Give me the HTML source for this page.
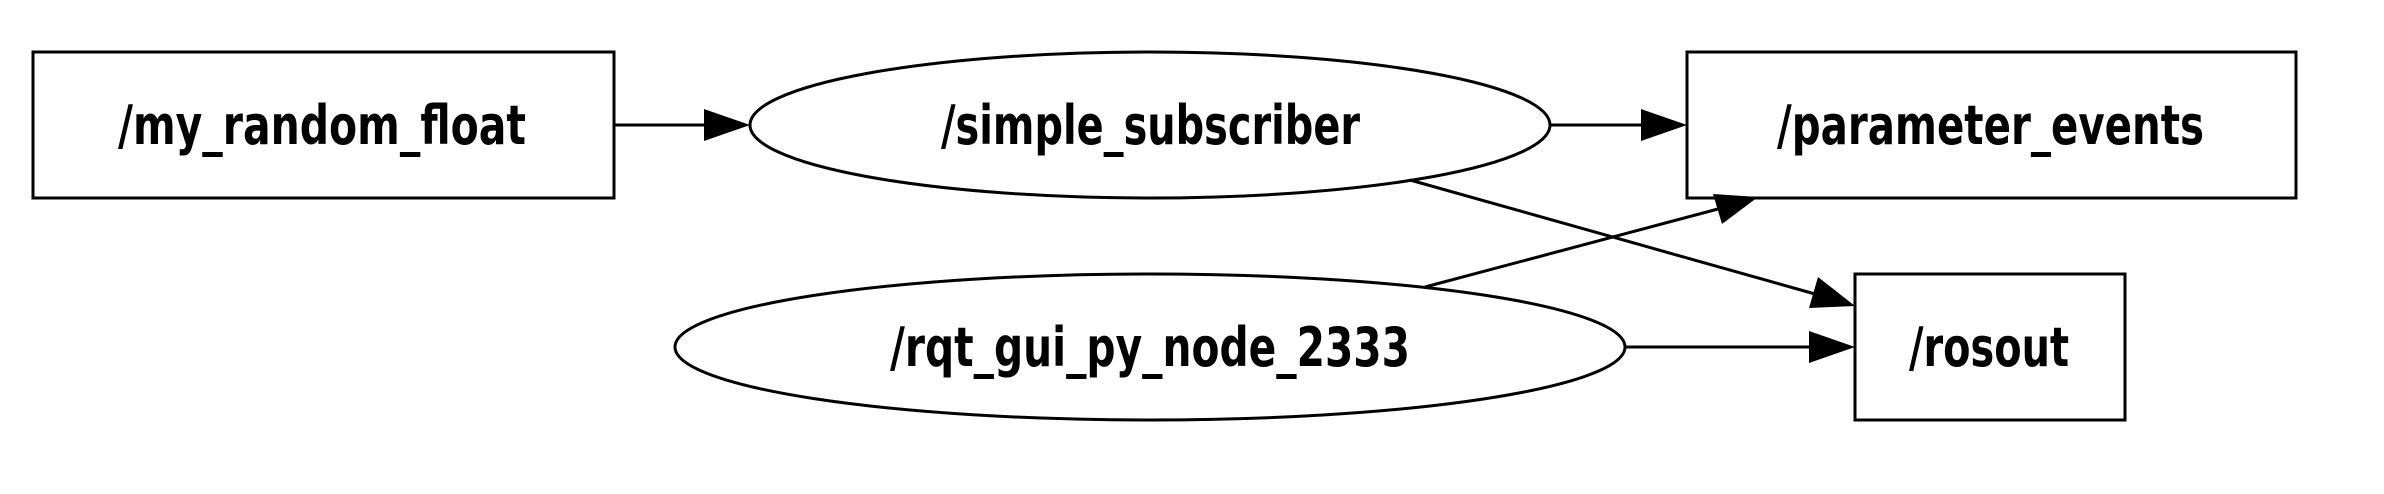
<!DOCTYPE html>
<html><head><meta charset="utf-8"><style>
html,body{margin:0;padding:0;background:#fff;}
svg{display:block;}
text{font-family:"DejaVu Sans","Liberation Sans",sans-serif;font-weight:bold;font-size:54px;fill:#000;}
</style></head><body>
<svg width="2384" height="494" viewBox="0 0 2384 494" xmlns="http://www.w3.org/2000/svg">
<g stroke="#000" stroke-width="3" fill="none">
<rect x="33" y="52" width="581" height="146"/>
<ellipse cx="1150" cy="125" rx="400" ry="73"/>
<rect x="1687" y="52" width="609" height="146"/>
<ellipse cx="1150" cy="347" rx="475" ry="73"/>
<rect x="1855" y="274" width="270" height="146"/>
<line x1="614" y1="125" x2="706" y2="125"/>
<line x1="1550" y1="125" x2="1644" y2="125"/>
<line x1="1626" y1="347" x2="1812" y2="347"/>
<line x1="1410" y1="180" x2="1815" y2="294"/>
<line x1="1425" y1="287" x2="1718" y2="209"/>
</g>
<g fill="#000">
<polygon points="750,125 704,109 704,141"/>
<polygon points="1687,125 1641,109 1641,141"/>
<polygon points="1855,347 1809,331 1809,363"/>
<polygon points="1855,306 1809,308 1818,277"/>
<polygon points="1758,197 1722,224 1713,194"/>
</g>
<text x="118" y="144" textLength="408" lengthAdjust="spacingAndGlyphs">/my_random_float</text>
<text x="941" y="144" textLength="419" lengthAdjust="spacingAndGlyphs">/simple_subscriber</text>
<text x="1777" y="144" textLength="427" lengthAdjust="spacingAndGlyphs">/parameter_events</text>
<text x="890" y="366" textLength="520" lengthAdjust="spacingAndGlyphs">/rqt_gui_py_node_2333</text>
<text x="1909" y="366" textLength="160" lengthAdjust="spacingAndGlyphs">/rosout</text>
</svg>
</body></html>
